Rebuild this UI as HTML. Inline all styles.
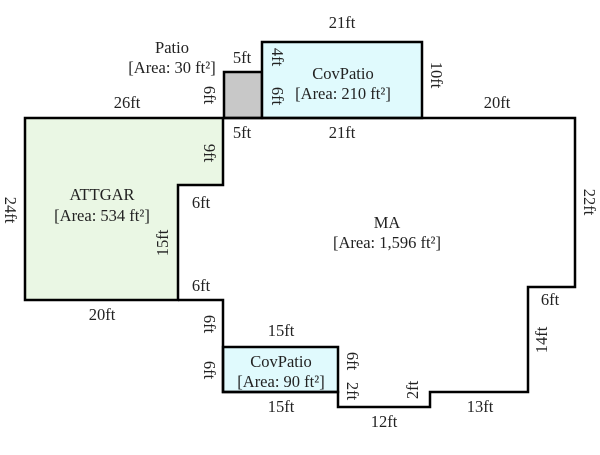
<!DOCTYPE html>
<html><head><style>body{margin:0;background:#fff}</style></head><body>
<svg width="600" height="450" xmlns="http://www.w3.org/2000/svg" font-family="Liberation Serif, serif" font-size="16.5" fill="#222">
<rect width="600" height="450" fill="#fff"/>
<polygon points="25,118 223,118 223,185 178,185 178,300 25,300" fill="#eaf7e4" stroke="#000" stroke-width="2.5"/>
<rect x="224" y="72" width="38" height="46" fill="#c8c8c8" stroke="#000" stroke-width="2.5"/>
<rect x="262" y="42" width="160" height="76" fill="#e0fafd" stroke="#000" stroke-width="2.5"/>
<rect x="223" y="347" width="115" height="45" fill="#e0fafd" stroke="#000" stroke-width="2.5"/>
<polyline points="223,118 575,118 575,287 528,287 528,392 430,392 430,407 338,407 338,392 223,392 223,300 178,300" fill="none" stroke="#000" stroke-width="2.5"/>
<g text-anchor="middle">
<text x="172" y="53">Patio</text>
<text x="172" y="73">[Area: 30 ft²]</text>
<text x="343" y="79">CovPatio</text>
<text x="343" y="99">[Area: 210 ft²]</text>
<text x="102" y="200">ATTGAR</text>
<text x="102" y="221">[Area: 534 ft²]</text>
<text x="387" y="228">MA</text>
<text x="387" y="248">[Area: 1,596 ft²]</text>
<text x="281" y="367">CovPatio</text>
<text x="281" y="387">[Area: 90 ft²]</text>
<text x="342" y="28">21ft</text>
<text x="242" y="63">5ft</text>
<text x="127" y="108">26ft</text>
<text x="497" y="108">20ft</text>
<text x="242" y="138">5ft</text>
<text x="342" y="138">21ft</text>
<text x="201" y="208">6ft</text>
<text x="201" y="291">6ft</text>
<text x="102" y="320">20ft</text>
<text x="281" y="336">15ft</text>
<text x="281" y="412">15ft</text>
<text x="384" y="427">12ft</text>
<text x="480" y="412">13ft</text>
<text x="550" y="305">6ft</text>
<text transform="translate(204,95) rotate(90)">6ft</text>
<text transform="translate(272,57) rotate(90)">4ft</text>
<text transform="translate(272,96) rotate(90)">6ft</text>
<text transform="translate(431,75) rotate(90)">10ft</text>
<text transform="translate(204,153) rotate(90)">9ft</text>
<text transform="translate(168,243) rotate(-90)">15ft</text>
<text transform="translate(5,210) rotate(90)">24ft</text>
<text transform="translate(584,202) rotate(90)">22ft</text>
<text transform="translate(204,324) rotate(90)">6ft</text>
<text transform="translate(204,370) rotate(90)">6ft</text>
<text transform="translate(347,361) rotate(90)">6ft</text>
<text transform="translate(347,391) rotate(90)">2ft</text>
<text transform="translate(418,390) rotate(-90)">2ft</text>
<text transform="translate(547,340) rotate(-90)">14ft</text>
</g>
</svg>
</body></html>
